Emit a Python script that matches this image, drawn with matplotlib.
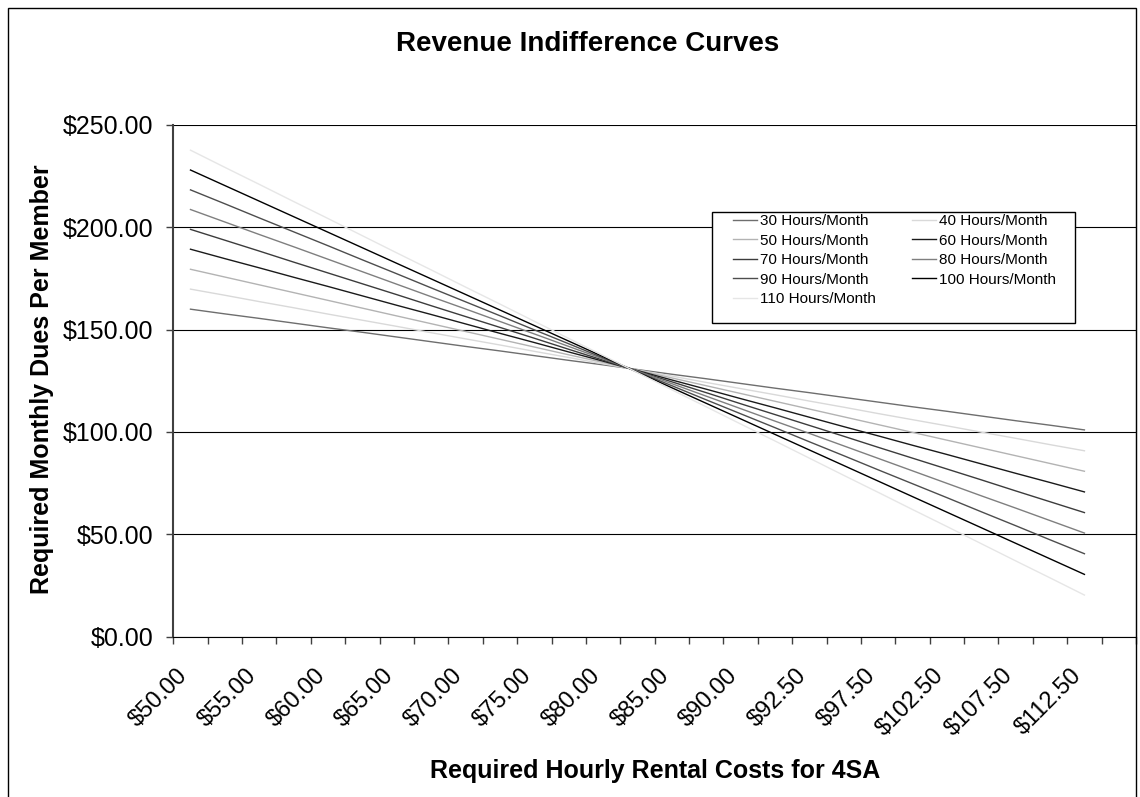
import numpy as np
import matplotlib
matplotlib.use("Agg")
import matplotlib.pyplot as plt
import matplotlib.transforms as mtransforms
from matplotlib.patches import Rectangle

plt.rcParams['font.family'] = ['Liberation Sans', 'DejaVu Sans']

# x axis: 28 category slots, label on every other one
rate_labels = ["$50.00", "$55.00", "$60.00", "$65.00", "$70.00", "$75.00", "$80.00",
               "$85.00", "$90.00", "$92.50", "$97.50", "$102.50", "$107.50", "$112.50"]
n_slots = 28

hours = [30, 40, 50, 60, 70, 80, 90, 100, 110]

dues_30 = [160.0, 157.7, 155.5, 153.2, 150.9, 148.7, 146.4, 144.1, 141.8, 139.6, 137.3, 135.0, 132.8, 130.5,
           128.2, 126.0, 123.7, 121.4, 119.2, 116.9, 114.6, 112.3, 110.1, 107.8, 105.5, 103.3, 101.0]
dues_40 = [169.8, 166.8, 163.7, 160.7, 157.6, 154.6, 151.6, 148.5, 145.5, 142.5, 139.4, 136.4, 133.3, 130.3,
           127.3, 124.2, 121.2, 118.2, 115.1, 112.1, 109.0, 106.0, 103.0, 99.9, 96.9, 93.8, 90.8]
dues_50 = [179.5, 175.7, 171.9, 168.1, 164.3, 160.5, 156.7, 152.9, 149.1, 145.3, 141.5, 137.7, 134.0, 130.2,
           126.4, 122.6, 118.8, 115.0, 111.2, 107.4, 103.6, 99.8, 96.0, 92.2, 88.4, 84.6, 80.8]
dues_60 = [189.3, 184.7, 180.2, 175.6, 171.1, 166.5, 161.9, 157.4, 152.8, 148.2, 143.7, 139.1, 134.6, 130.0,
           125.4, 120.9, 116.3, 111.8, 107.2, 102.6, 98.1, 93.5, 89.0, 84.4, 79.8, 75.3, 70.7]
dues_70 = [199.0, 193.7, 188.4, 183.0, 177.7, 172.4, 167.1, 161.7, 156.4, 151.1, 145.8, 140.4, 135.1, 129.8,
           124.5, 119.2, 113.8, 108.5, 103.2, 97.9, 92.5, 87.2, 81.9, 76.6, 71.2, 65.9, 60.6]
dues_80 = [208.7, 202.6, 196.5, 190.5, 184.4, 178.3, 172.2, 166.1, 160.1, 154.0, 147.9, 141.8, 135.7, 129.7,
           123.6, 117.5, 111.4, 105.3, 99.3, 93.2, 87.1, 81.0, 74.9, 68.8, 62.8, 56.7, 50.6]
dues_90 = [218.3, 211.5, 204.6, 197.8, 191.0, 184.1, 177.3, 170.4, 163.6, 156.8, 149.9, 143.1, 136.2, 129.4,
           122.6, 115.7, 108.9, 102.1, 95.2, 88.4, 81.5, 74.7, 67.9, 61.0, 54.2, 47.3, 40.5]
dues_100 = [228.0, 220.4, 212.8, 205.2, 197.6, 190.0, 182.4, 174.8, 167.2, 159.6, 152.0, 144.4, 136.8, 129.2,
            121.6, 114.0, 106.4, 98.8, 91.2, 83.6, 76.0, 68.4, 60.8, 53.2, 45.6, 38.0, 30.4]
dues_110 = [237.7, 229.3, 221.0, 212.6, 204.3, 195.9, 187.5, 179.2, 170.8, 162.5, 154.1, 145.7, 137.4, 129.0,
            120.6, 112.3, 103.9, 95.6, 87.2, 78.8, 70.5, 62.1, 53.8, 45.4, 37.0, 28.7, 20.3]

series = [dues_30, dues_40, dues_50, dues_60, dues_70, dues_80, dues_90, dues_100, dues_110]
colors = ['#6e6e6e', '#d9d9d9', '#b3b3b3', '#1a1a1a', '#3c3c3c', '#7f7f7f', '#4d4d4d', '#000000', '#e6e6e6']

W, H = 1140, 797
fig = plt.figure(figsize=(W / 100, H / 100), dpi=100)

# plot area in pixels
left, right, top, bottom = 173.3, 1136, 125, 636.6
ax = fig.add_axes([left / W, 1 - bottom / H, (right - left) / W, (bottom - top) / H])

x = np.arange(len(dues_30))
lines = []
for h, d, c in zip(hours, series, colors):
    ln, = ax.plot(x, d, color=c, lw=1.0, label=f"{h} Hours/Month", zorder=3)
    lines.append(ln)

ax.set_xlim(-0.5, n_slots - 0.5)
ax.set_ylim(0, 250)

# y axis
ax.set_yticks(np.arange(0, 251, 50))
ax.yaxis.set_major_formatter(lambda v, p: f"${v:.2f}")
ax.tick_params(axis='y', length=5, width=1, color='#404040', pad=9.5, labelsize=18)
ax.grid(axis='y', color='black', lw=0.8, zorder=1)

# x axis: tick marks between categories, labels every second category
ax.set_xticks(np.arange(-0.5, n_slots, 1), minor=True)
ax.set_xticks(np.arange(0, 2 * len(rate_labels), 2))
ax.set_xticklabels(rate_labels, rotation=45, ha='right', va='top', rotation_mode='anchor')
ax.tick_params(axis='x', which='minor', length=5, width=1, color='#404040')
ax.tick_params(axis='x', which='major', length=0, pad=20, labelsize=17)
shift = mtransforms.ScaledTranslation(-14 / 100, 0, fig.dpi_scale_trans)
for lab in ax.get_xticklabels():
    lab.set_transform(lab.get_transform() + shift)

ax.spines['top'].set_visible(False)
ax.spines['left'].set_color('#404040')
ax.spines['left'].set_linewidth(1.5)
ax.spines['right'].set_color('#606060')
ax.spines['bottom'].set_color('black')

# titles
fig.text(588 / W, 1 - 44 / H, "Revenue Indifference Curves", ha='center', va='center',
         fontsize=20, fontweight='bold')
fig.text(655 / W, 1 - 771 / H, "Required Hourly Rental Costs for 4SA", ha='center', va='center',
         fontsize=18, fontweight='bold')
fig.text(42 / W, 1 - 379 / H, "Required Monthly Dues Per Member", ha='center', va='center',
         rotation=90, fontsize=18, fontweight='bold')

# legend (row-wise order as in the original)
order = [0, 2, 4, 6, 8, 1, 3, 5, 7]
box = Rectangle((711.7 / W, 1 - 323.3 / H), (1075 - 711.7) / W, (323.3 - 212.3) / H,
                transform=fig.transFigure, facecolor='white', edgecolor='black', lw=1.0, zorder=5,
                clip_on=False)
ax.add_artist(box)
leg = ax.legend([lines[i] for i in order], [lines[i].get_label() for i in order],
                ncol=2, frameon=False, loc='upper left',
                bbox_to_anchor=(733 / W, 1 - 214.5 / H), bbox_transform=fig.transFigure,
                borderpad=0, borderaxespad=0, fontsize=11, handlelength=1.57,
                handletextpad=0.2, columnspacing=2.35, labelspacing=0.35)
leg.set_zorder(6)

# outer chart frame
fig.add_artist(Rectangle((8 / W, -0.05), (1136 - 8) / W, 1.05 - 8 / H, transform=fig.transFigure,
                         fill=False, edgecolor='black', lw=1.0))

fig.savefig("out.png", dpi=100)
